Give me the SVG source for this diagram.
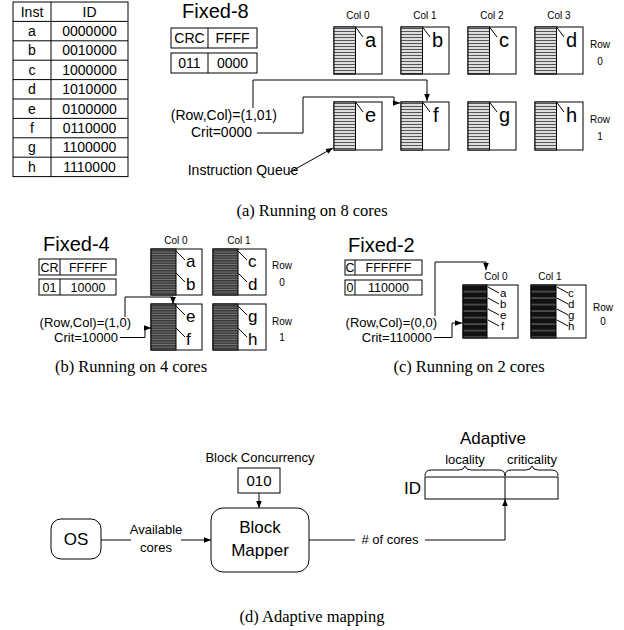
<svg xmlns="http://www.w3.org/2000/svg" width="624" height="630" viewBox="0 0 624 630">
<defs>
<style>
.s{font-family:"Liberation Sans",Arial,sans-serif;fill:#000}
.t{font-family:"Liberation Serif","Times New Roman",serif;fill:#000}
.m{text-anchor:middle}
.e{text-anchor:end}
.ln{fill:none;stroke:#000;stroke-width:1}
.bx{fill:#fff;stroke:#000;stroke-width:1}
.f8{font-size:14px}
.f13{font-size:13px}
.f12{font-size:12.5px}
.f10{font-size:10px}
.big{font-size:20px}
.l4{font-size:17px}
.l2{font-size:11.5px}
.cap{font-size:16.5px}
</style>
<pattern id="pa" width="4" height="3" patternUnits="userSpaceOnUse"><rect width="4" height="3" fill="#fff"/><rect y="0.8" width="4" height="1.4" fill="#555"/></pattern>
<pattern id="pb" width="4" height="2.5" patternUnits="userSpaceOnUse"><rect width="4" height="2.5" fill="#3a3a3a"/><rect y="1.6" width="4" height="0.6" fill="#9a9a9a"/></pattern>
<pattern id="pc" width="4" height="6.5" patternUnits="userSpaceOnUse"><rect width="4" height="6.5" fill="#111"/><rect y="5" width="4" height="1.2" fill="#666"/></pattern>
<marker id="ah" viewBox="0 0 10 10" refX="10" refY="5" markerWidth="7" markerHeight="7" markerUnits="userSpaceOnUse" orient="auto"><path d="M0,1 L10,5 L0,9 z" fill="#000"/></marker>
</defs>
<rect width="624" height="630" fill="#fff"/>

<!-- Table -->
<g id="table" class="s f8">
<rect x="13" y="2" width="115" height="174.6" class="bx"/>
<path class="ln" d="M51,2V176.6M13,21.4H128M13,40.8H128M13,60.2H128M13,79.6H128M13,99H128M13,118.4H128M13,137.8H128M13,157.2H128"/>
<text x="32" y="16.5" class="m">Inst</text><text x="89.5" y="16.5" class="m">ID</text>
<text x="32" y="35.9" class="m">a</text><text x="89.5" y="35.9" class="m">0000000</text>
<text x="32" y="55.3" class="m">b</text><text x="89.5" y="55.3" class="m">0010000</text>
<text x="32" y="74.7" class="m">c</text><text x="89.5" y="74.7" class="m">1000000</text>
<text x="32" y="94.1" class="m">d</text><text x="89.5" y="94.1" class="m">1010000</text>
<text x="32" y="113.5" class="m">e</text><text x="89.5" y="113.5" class="m">0100000</text>
<text x="32" y="132.9" class="m">f</text><text x="89.5" y="132.9" class="m">0110000</text>
<text x="32" y="152.3" class="m">g</text><text x="89.5" y="152.3" class="m">1100000</text>
<text x="32" y="171.7" class="m">h</text><text x="89.5" y="171.7" class="m">1110000</text>
</g>

<!-- (a) Fixed-8 -->
<g id="fixed8" class="s">
<text x="182" y="17.5" class="big">Fixed-8</text>
<rect x="171" y="28" width="86" height="20" class="bx"/><path class="ln" d="M208,28V48"/>
<text x="189.5" y="43" class="m f8">CRC</text><text x="232.5" y="43" class="m f8">FFFF</text>
<rect x="171" y="53" width="86" height="20" class="bx"/><path class="ln" d="M208,53V73"/>
<text x="189.5" y="68" class="m f8">011</text><text x="232.5" y="68" class="m f8">0000</text>
<text x="277" y="120" class="e f8">(Row,Col)=(1,01)</text>
<text x="252" y="137" class="e f8">Crit=0000</text>
<text x="243" y="175" class="m f8">Instruction Queue</text>
</g>
<g id="labels8" class="s f10">
<text x="358" y="19" class="m">Col 0</text><text x="425" y="19" class="m">Col 1</text><text x="492" y="19" class="m">Col 2</text><text x="559" y="19" class="m">Col 3</text>
<text x="600" y="48" class="m">Row</text><text x="600" y="65" class="m">0</text>
<text x="600" y="123" class="m">Row</text><text x="600" y="140" class="m">1</text>
</g>
<g id="core8-a"><rect x="334" y="27" width="48" height="47" class="bx"/><rect x="334" y="27" width="21.5" height="47" fill="url(#pa)" stroke="#000"/><path class="ln" d="M355.5,27L363,37"/><text x="365" y="47" class="s big">a</text></g>
<g id="core8-b"><rect x="401" y="27" width="48" height="47" class="bx"/><rect x="401" y="27" width="21.5" height="47" fill="url(#pa)" stroke="#000"/><path class="ln" d="M422.5,27L430,37"/><text x="432" y="47" class="s big">b</text></g>
<g id="core8-c"><rect x="468" y="27" width="48" height="47" class="bx"/><rect x="468" y="27" width="21.5" height="47" fill="url(#pa)" stroke="#000"/><path class="ln" d="M489.5,27L497,37"/><text x="499" y="47" class="s big">c</text></g>
<g id="core8-d"><rect x="535" y="27" width="48" height="47" class="bx"/><rect x="535" y="27" width="21.5" height="47" fill="url(#pa)" stroke="#000"/><path class="ln" d="M556.5,27L564,37"/><text x="566" y="47" class="s big">d</text></g>
<g id="core8-e"><rect x="334" y="102" width="48" height="48" class="bx"/><rect x="334" y="102" width="21.5" height="48" fill="url(#pa)" stroke="#000"/><path class="ln" d="M355.5,102L363,112"/><text x="365" y="122" class="s big">e</text></g>
<g id="core8-f"><rect x="401" y="102" width="48" height="48" class="bx"/><rect x="401" y="102" width="21.5" height="48" fill="url(#pa)" stroke="#000"/><path class="ln" d="M422.5,102L430,112"/><text x="433" y="122" class="s big">f</text></g>
<g id="core8-g"><rect x="468" y="102" width="48" height="48" class="bx"/><rect x="468" y="102" width="21.5" height="48" fill="url(#pa)" stroke="#000"/><path class="ln" d="M489.5,102L497,112"/><text x="499" y="122" class="s big">g</text></g>
<g id="core8-h"><rect x="535" y="102" width="48" height="48" class="bx"/><rect x="535" y="102" width="21.5" height="48" fill="url(#pa)" stroke="#000"/><path class="ln" d="M556.5,102L564,112"/><text x="566" y="122" class="s big">h</text></g>

<!-- (b) Fixed-4 -->
<g id="fixed4" class="s">
<text x="43" y="251" class="big">Fixed-4</text>
<rect x="39" y="259" width="77" height="16" class="bx"/><path class="ln" d="M60,259V275"/>
<text x="49.5" y="271.5" class="m f12">CR</text><text x="88" y="271.5" class="m f12">FFFFF</text>
<rect x="39" y="279" width="77" height="16" class="bx"/><path class="ln" d="M60,279V295"/>
<text x="49.5" y="291.5" class="m f12">01</text><text x="88" y="291.5" class="m f12">10000</text>
<text x="131" y="327" class="e f13">(Row,Col)=(1,0)</text>
<text x="118" y="342" class="e f13">Crit=10000</text>
</g>
<g id="labels4" class="s f10">
<text x="176" y="244" class="m">Col 0</text><text x="239" y="244" class="m">Col 1</text>
<text x="282" y="269" class="m">Row</text><text x="282" y="286" class="m">0</text>
<text x="282" y="325" class="m">Row</text><text x="282" y="341" class="m">1</text>
</g>
<g id="core4-0" class="s"><rect x="151" y="249" width="51" height="46" class="bx"/><rect x="151" y="249" width="25" height="46" fill="url(#pb)" stroke="#000"/><path class="ln" d="M176,251L185,260M176,273L185,282"/><text x="186" y="267" class="l4">a</text><text x="186" y="290" class="l4">b</text></g>
<g id="core4-1" class="s"><rect x="213" y="249" width="53" height="46" class="bx"/><rect x="213" y="249" width="25" height="46" fill="url(#pb)" stroke="#000"/><path class="ln" d="M238,251L247,260M238,273L247,282"/><text x="248" y="267" class="l4">c</text><text x="248" y="290" class="l4">d</text></g>
<g id="core4-2" class="s"><rect x="151" y="304" width="51" height="46" class="bx"/><rect x="151" y="304" width="25" height="46" fill="url(#pb)" stroke="#000"/><path class="ln" d="M176,306L185,315M176,328L185,337"/><text x="186" y="322" class="l4">e</text><text x="186" y="345" class="l4">f</text></g>
<g id="core4-3" class="s"><rect x="213" y="304" width="53" height="46" class="bx"/><rect x="213" y="304" width="25" height="46" fill="url(#pb)" stroke="#000"/><path class="ln" d="M238,306L247,315M238,328L247,337"/><text x="248" y="322" class="l4">g</text><text x="248" y="345" class="l4">h</text></g>

<!-- (c) Fixed-2 -->
<g id="fixed2" class="s">
<text x="348" y="252" class="big">Fixed-2</text>
<rect x="345" y="260" width="77" height="15" class="bx"/><path class="ln" d="M355,260V275"/>
<text x="350" y="272" class="m f12">C</text><text x="388.5" y="272" class="m f12">FFFFFF</text>
<rect x="345" y="280" width="77" height="15" class="bx"/><path class="ln" d="M355,280V295"/>
<text x="350" y="292" class="m f12">0</text><text x="388.5" y="292" class="m f12">110000</text>
<text x="437" y="327" class="e f13">(Row,Col)=(0,0)</text>
<text x="432" y="342" class="e f13">Crit=110000</text>
</g>
<g id="labels2" class="s f10">
<text x="496" y="280" class="m">Col 0</text><text x="550" y="280" class="m">Col 1</text>
<text x="603" y="311" class="m">Row</text><text x="603" y="325" class="m">0</text>
</g>
<g id="core2-0" class="s"><rect x="463" y="285" width="55" height="53" class="bx"/><rect x="463" y="285" width="24" height="53" fill="url(#pc)" stroke="#000"/><path class="ln" d="M488,287L499,293M488,298L499,304M488,309L499,315M488,320L499,326"/><text x="500" y="297" class="l2">a</text><text x="500" y="308" class="l2">b</text><text x="500" y="319" class="l2">e</text><text x="501" y="330" class="l2">f</text></g>
<g id="core2-1" class="s"><rect x="531" y="285" width="55" height="53" class="bx"/><rect x="531" y="285" width="25" height="53" fill="url(#pc)" stroke="#000"/><path class="ln" d="M557,287L568,293M557,298L568,304M557,309L568,315M557,320L568,326"/><text x="568" y="297" class="l2">c</text><text x="568" y="308" class="l2">d</text><text x="568" y="319" class="l2">g</text><text x="568" y="330" class="l2">h</text></g>

<!-- (d) Adaptive mapping -->
<g id="adaptive-id" class="s">
<text x="493" y="444" class="m" style="font-size:17px">Adaptive</text>
<text x="465" y="464" class="m f13">locality</text><text x="532" y="464" class="m f13">criticality</text>
<path class="ln" d="M425,476 Q425,470 431,470 H459 Q464,470 465,466 Q466,470 471,470 H499 Q505,470 505,476 Q505,470 511,470 H526 Q531,470 532,466 Q533,470 538,470 H552 Q558,470 558,476"/>
<rect x="425" y="477" width="133" height="22" class="bx"/><path class="ln" d="M505,477V499" stroke="#555"/>
<text x="421" y="494" class="e" style="font-size:17px">ID</text>
</g>
<g id="block-concurrency" class="s">
<text x="260" y="462" class="m f13">Block Concurrency</text>
<rect x="238" y="468" width="42" height="25" class="bx"/>
<text x="259" y="486" class="m" style="font-size:15px">010</text>
</g>
<g id="os" class="s"><rect x="51" y="519" width="50" height="40" rx="10" class="bx"/><text x="76" y="545" class="m" style="font-size:17px">OS</text></g>
<g id="block-mapper" class="s"><rect x="211" y="508" width="98" height="64" rx="12" class="bx"/><text x="260" y="533" class="m" style="font-size:17px">Block</text><text x="260" y="556" class="m" style="font-size:17px">Mapper</text></g>
<g id="conn-labels" class="s f13">
<text x="156" y="534" class="m">Available</text><text x="156" y="552" class="m">cores</text>
<text x="390" y="544" class="m"># of cores</text>
</g>

<!-- connectors -->
<g id="connectors" class="ln">
<path d="M253,108V80H427V101" marker-end="url(#ah)"/>
<path d="M257,133H303V97H394V103H400" marker-end="url(#ah)"/>
<path d="M290,172L333,148" marker-end="url(#ah)"/>
<path d="M125,317V297H173V304" marker-end="url(#ah)"/>
<path d="M120,337.5H145V328H151" marker-end="url(#ah)"/>
<path d="M435,316V262H486V270" marker-end="url(#ah)"/>
<path d="M434,337.5H452V323H462" marker-end="url(#ah)"/>
<path d="M259,493V508" marker-end="url(#ah)"/>
<path d="M101,540H131"/>
<path d="M181,540H211" marker-end="url(#ah)"/>
<path d="M309,540H355"/>
<path d="M425,540H505V499" marker-end="url(#ah)"/>
</g>

<!-- captions -->
<g id="captions" class="t cap">
<text x="312" y="216" class="m">(a) Running on 8 cores</text>
<text x="131" y="372" class="m">(b) Running on 4 cores</text>
<text x="469" y="372" class="m">(c) Running on 2 cores</text>
<text x="312" y="622" class="m">(d) Adaptive mapping</text>
</g>
</svg>
